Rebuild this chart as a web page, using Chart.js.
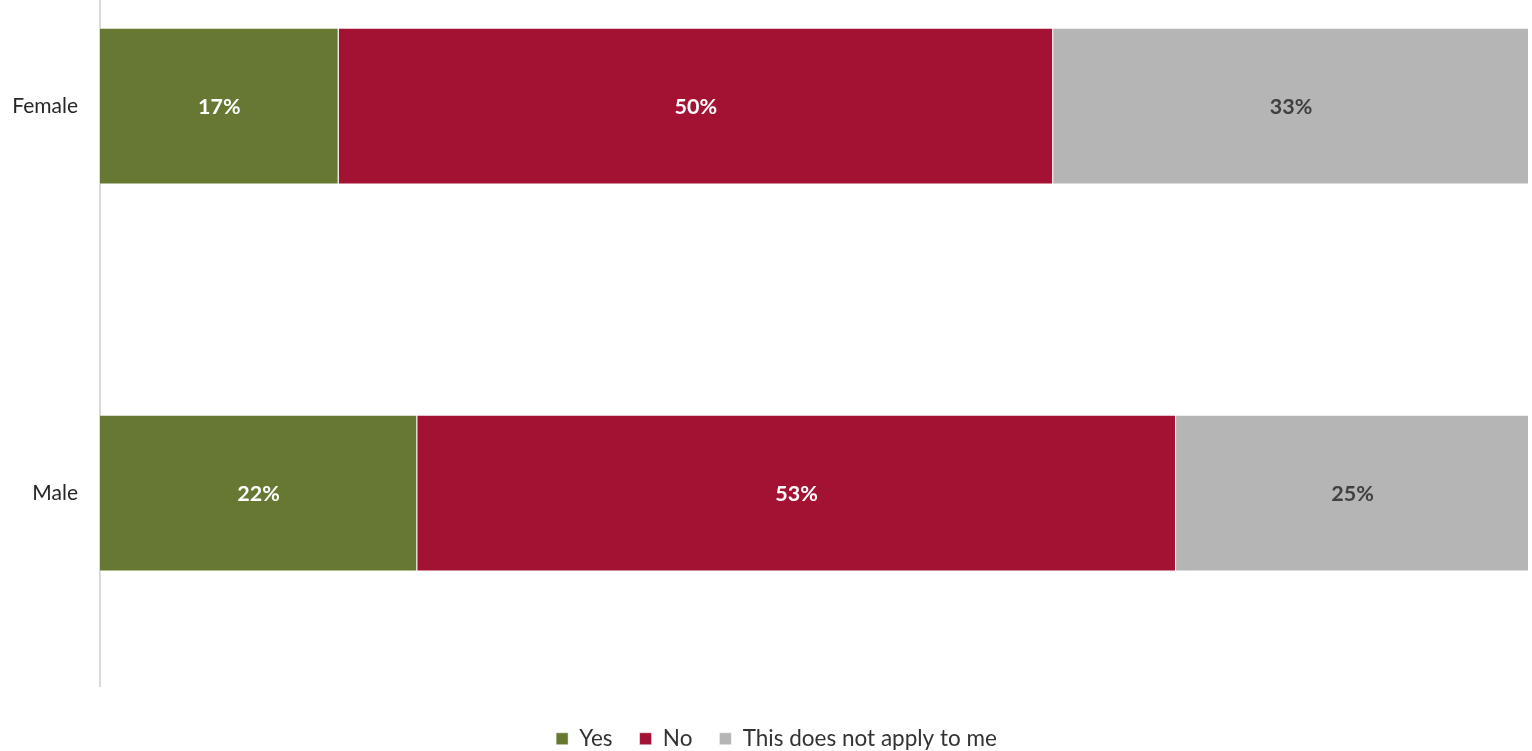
<!DOCTYPE html>
<html>
<head>
<meta charset="utf-8">
<script src="https://cdn.jsdelivr.net/npm/chart.js@4.4.0/dist/chart.umd.min.js"></script>
<style>
  html, body { margin: 0; padding: 0; background: #ffffff; overflow: hidden; }
  #wrap { position: absolute; left: 0; top: -114px; width: 1532px; height: 874px; }
</style>
</head>
<body>
<div id="wrap"><canvas id="answer-chart"></canvas></div>
<script>
// categories and series (percent)
const genders = ['Female', 'Male'];
const yesValues = [16.7, 22.2];
const noValues = [50.0, 53.1];
const naValues = [33.3, 24.7];
const seriesNames = ['Yes', 'No', 'This does not apply to me'];

const fontName = "Lato, 'Open Sans', sans-serif";

// draw the percent labels in the middle of each bar segment
const barLabels = {
    id: 'barLabels',
    afterDatasetsDraw(chart) {
        const ctx = chart.ctx;
        ctx.save();
        ctx.font = 'bold 21.5px ' + fontName;
        ctx.textAlign = 'center';
        ctx.textBaseline = 'middle';
        chart.data.datasets.forEach(function(ds, di) {
            const meta = chart.getDatasetMeta(di);
            meta.data.forEach(function(bar, i) {
                const p = bar.getProps(['x', 'y', 'base'], true);
                ctx.fillStyle = ds.labelColor;
                ctx.fillText(Math.round(ds.data[i]) + '%', (p.x + p.base) / 2, p.y + 1);
            });
        });
        ctx.restore();
    }
};

// legend sits a little right of centre in the original
const legendShift = {
    id: 'legendShift',
    afterLayout(chart) {
        chart.legend.left += 12;
        chart.legend.right += 12;
    }
};

const answerData = {
    labels: genders,
    datasets: [
        {
            label: seriesNames[0],
            data: yesValues,
            backgroundColor: '#667832',
            labelColor: '#ffffff'
        },
        {
            label: seriesNames[1],
            data: noValues,
            backgroundColor: '#a31133',
            labelColor: '#ffffff'
        },
        {
            label: seriesNames[2],
            data: naValues,
            backgroundColor: '#b5b5b5',
            labelColor: '#404040'
        }
    ]
};

const answerChart = new Chart(document.getElementById('answer-chart'), {
    type: 'bar',
    data: answerData,
    plugins: [barLabels, legendShift],
    options: {
        indexAxis: 'y',
        responsive: true,
        maintainAspectRatio: false,
        animation: false,
        datasets: {
            bar: {
                categoryPercentage: 1.0,
                barPercentage: 0.405,
                borderWidth: 1,
                borderColor: 'rgba(255,255,255,0.5)'
            }
        },
        layout: {
            padding: {top: 0, right: 3, bottom: 0, left: 0}
        },
        plugins: {
            tooltip: {enabled: false},
            legend: {
                position: 'bottom',
                labels: {
                    boxWidth: 12,
                    boxHeight: 12,
                    padding: 27,
                    color: '#333333',
                    font: {family: fontName, size: 22.5}
                }
            }
        },
        scales: {
            x: {
                stacked: true,
                min: 0,
                max: 100,
                grid: {display: false},
                border: {display: false},
                ticks: {display: false},
                afterFit: function(scale) { scale.height = 14; }
            },
            y: {
                stacked: true,
                grid: {display: false},
                border: {display: true, color: '#d9d9d9', width: 2},
                ticks: {
                    color: '#262626',
                    padding: 14,
                    font: {family: fontName, size: 21}
                },
                afterFit: function(scale) { scale.width = 100; }
            }
        }
    }
});
</script>
</body>
</html>
